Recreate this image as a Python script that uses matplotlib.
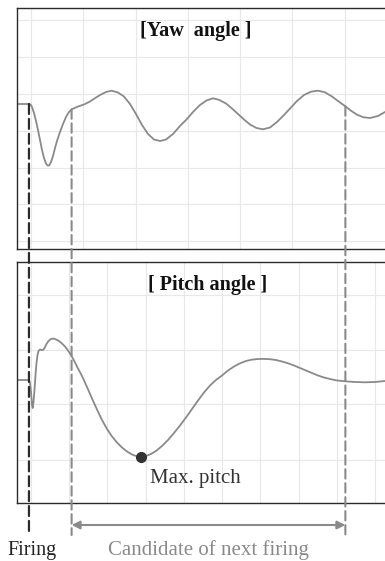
import numpy as np
import matplotlib.pyplot as plt
from matplotlib.patches import ConnectionPatch

# time axis (s) and angles
yaw_t = [0.000, 0.462, 0.519, 0.577, 0.654, 0.731, 0.808, 0.885, 0.962, 1.038,
         1.115, 1.173, 1.231, 1.308, 1.385, 1.462, 1.538, 1.654, 1.769, 1.885,
         2.000, 2.104, 2.346, 2.577, 2.808, 3.038, 3.231, 3.423, 3.642, 3.885,
         4.115, 4.346, 4.577, 4.808, 5.038, 5.269, 5.500, 5.731, 6.000, 6.269,
         6.519, 6.769, 7.038, 7.288, 7.538, 7.769, 8.038, 8.269, 8.500, 8.731,
         8.962, 9.212, 9.462, 9.731, 10.000, 10.269, 10.519, 10.769, 11.038,
         11.308, 11.577, 11.846, 12.115, 12.346, 12.615, 12.846, 13.077, 13.327,
         13.577, 13.885, 14.154, 14.423]
yaw = [0.00, 0.00, -0.05, -0.30, -0.90, -1.70, -2.60, -3.60, -4.60, -5.40,
       -5.95, -6.15, -6.15, -5.80, -5.20, -4.40, -3.70, -2.80, -2.00, -1.30,
       -0.80, -0.53, -0.25, -0.05, 0.25, 0.65, 0.95, 1.20, 1.33, 1.15,
       0.75, 0.00, -1.00, -2.10, -3.00, -3.55, -3.70, -3.55, -3.00, -2.20,
       -1.55, -0.80, -0.10, 0.35, 0.57, 0.42, 0.05, -0.45, -1.00, -1.55,
       -2.05, -2.40, -2.53, -2.35, -1.80, -1.10, -0.40, 0.30, 0.90,
       1.23, 1.33, 1.17, 0.75, 0.30, -0.20, -0.67, -1.07, -1.33,
       -1.40, -1.20, -0.80, -0.40]

pitch_t = [0.000, 0.462, 0.500, 0.538, 0.577, 0.604, 0.635, 0.673, 0.712, 0.750,
           0.788, 0.827, 0.885, 0.942, 1.000, 1.058, 1.135, 1.212, 1.308, 1.404,
           1.500, 1.615, 1.731, 1.846, 1.962, 2.077, 2.192, 2.346, 2.500, 2.692,
           2.885, 3.077, 3.269, 3.462, 3.654, 3.846, 4.038, 4.231, 4.423, 4.596,
           4.758, 4.962, 5.154, 5.346, 5.577, 5.808, 6.038, 6.269, 6.500, 6.731,
           6.962, 7.192, 7.423, 7.654, 7.885, 8.115, 8.346, 8.577, 8.808, 9.038,
           9.269, 9.500, 9.731, 9.962, 10.192, 10.423, 10.654, 10.885, 11.115,
           11.346, 11.577, 11.808, 12.038, 12.269, 12.500, 12.731, 13.000, 13.385,
           13.769, 14.154, 14.423]
pitch = [0.00, 0.00, -0.30, -1.20, -2.50, -2.80, -2.20, -1.00, 0.50, 1.70,
         2.50, 2.90, 3.05, 3.00, 3.00, 3.20, 3.60, 3.90, 4.10, 4.15,
         4.05, 3.90, 3.65, 3.35, 2.95, 2.50, 1.95, 1.15, 0.40, -0.70,
         -1.85, -2.95, -4.00, -4.90, -5.65, -6.25, -6.75, -7.15, -7.45, -7.62,
         -7.67, -7.60, -7.40, -7.10, -6.60, -6.00, -5.30, -4.55, -3.75, -2.90,
         -2.05, -1.25, -0.55, 0.00, 0.45, 0.95, 1.35, 1.67, 1.90, 2.04,
         2.10, 2.11, 2.08, 2.00, 1.85, 1.67, 1.45, 1.20, 0.95,
         0.70, 0.45, 0.25, 0.10, -0.03, -0.10, -0.15, -0.20, -0.23,
         -0.20, -0.10, -0.05]

firing_t = 0.46
candidate_start = 2.10
candidate_end = 12.63

W, H = 385, 561
LINE = '#8a8a8a'
GRID = '#e8e8e8'
SPINE = '#2b2b2b'
plt.rcParams['font.family'] = ['Liberation Serif', 'DejaVu Serif']

fig = plt.figure(figsize=(W / 100, H / 100), dpi=100)
left, right = 17, 400
xmax = (right - left) / 26


def panel(top, bottom, ylim, xgrid, ygrid):
    ax = fig.add_axes([left / W, (H - bottom) / H, (right - left) / W, (bottom - top) / H])
    ax.set_xlim(0, xmax)
    ax.set_ylim(*ylim)
    ax.set_xticks(xgrid)
    ax.set_yticks(ygrid)
    ax.tick_params(length=0, labelbottom=False, labelleft=False)
    ax.grid(True, color=GRID, lw=0.8)
    ax.set_axisbelow(True)
    for s in ax.spines.values():
        s.set_color(SPINE)
        s.set_linewidth(1.0)
    ax.spines['right'].set_visible(False)
    return ax


ax1 = panel(8, 249, (-14.5, 9.6), np.arange(0.54, 15, 2.01),
            [8.4, 4.7, 1.0, -2.7, -6.4, -10.0, -13.7])
ax2 = panel(262, 503, (-12.3, 11.8), np.arange(0.54, 15, 1.47),
            [8.5, 3.0, -2.4, -8.0])

ax1.plot(yaw_t, yaw, color=LINE, lw=1.3, solid_joinstyle='round')
ax2.plot(pitch_t, pitch, color=LINE, lw=1.3, solid_joinstyle='round')

i = int(np.argmin(pitch))
ax2.plot(pitch_t[i], pitch[i], 'o', color='#333333', ms=7, zorder=5)
ax2.annotate('Max. pitch', (pitch_t[i], pitch[i]), xytext=(6.5, -16),
             textcoords='offset points', ha='left', va='center', fontsize=15, color='#333333')

ax1.text(0.467, 0.905, '[Yaw  angle ]', transform=ax1.transAxes, ha='center', va='center',
         fontsize=14.5, fontweight='bold', color='#111111')
ax2.text(0.499, 0.905, '[ Pitch angle ]', transform=ax2.transAxes, ha='center', va='center',
         fontsize=14.5, fontweight='bold', color='#111111')

# overlay in pixel rows for the event markers
ov = fig.add_axes([left / W, 0, (right - left) / W, 1])
ov.set_xlim(0, xmax)
ov.set_ylim(H, 0)
ov.axis('off')
ov.patch.set_alpha(0)

events = [(firing_t, 533, '#2b2b2b', 1.6), (candidate_start, 535, '#8a8a8a', 1.5),
          (candidate_end, 535, '#8a8a8a', 1.5)]
for t, yend, c, lw in events:
    y0 = np.interp(t, yaw_t, yaw)
    con = ConnectionPatch(xyA=(t, y0), coordsA=ax1.transData, xyB=(t, yend), coordsB=ov.transData,
                          color=c, lw=lw, linestyle=(0, (4.5, 2.2)), zorder=6)
    fig.add_artist(con)

ov.annotate('', xy=(candidate_end, 525), xytext=(candidate_start, 525),
            arrowprops=dict(arrowstyle='<|-|>', color=LINE, lw=1.5, shrinkA=0, shrinkB=0,
                            mutation_scale=12))
ov.annotate('Firing', (firing_t, 550), xytext=(2, 0), textcoords='offset points',
            ha='center', va='center', fontsize=14.5, color='#222222')
ov.text((candidate_start + candidate_end) / 2, 550, 'Candidate of next firing',
        ha='center', va='center', fontsize=15, color='#8a8a8a')

fig.savefig('out.png', dpi=100)
